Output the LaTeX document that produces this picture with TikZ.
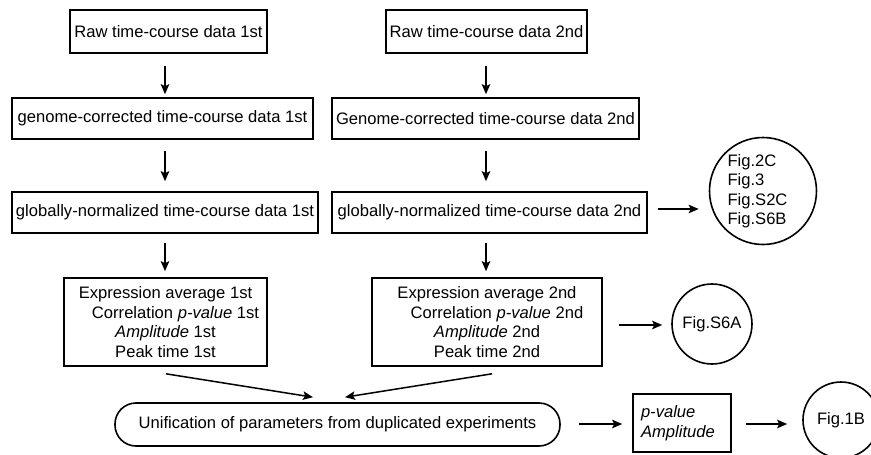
\documentclass[tikz,border=0pt]{standalone}
\usepackage{fontspec}
\setmainfont{Liberation Sans}
\usetikzlibrary{arrows.meta,calc}

\tikzset{
  x=1pt, y=-1pt,
  every node/.style={font=\fontsize{16.6}{19.5}\selectfont, inner sep=0pt},
  box/.style={draw, line width=1.6pt, rectangle},
  bubble/.style={draw, line width=1.6pt, circle},
  arr/.style={line width=1.5pt, -{Stealth[length=10pt,width=8.5pt,inset=2pt]}},
}

\begin{document}
\begin{tikzpicture}
\useasboundingbox (0,0) rectangle (871,455);

% first replicate column
\node[box, minimum width=197, minimum height=43] (raw1) at (168.5,31.5) {Raw time-course data 1st};
\node[box, minimum width=301, minimum height=41] (gen1) at (162.5,118.5) {genome-corrected time-course data 1st};
\node[box, minimum width=306, minimum height=41] (glob1) at (165,212.5) {globally-normalized time-course data 1st};
\node[box, minimum width=203, minimum height=88, align=center] (expr1) at (165.5,322)
  {Expression average 1st\\\hspace*{20pt}Correlation \textit{p-value} 1st\\\textit{Amplitude} 1st\\Peak time 1st};

% second replicate column
\node[box, minimum width=201, minimum height=43] (raw2) at (486.5,31.5) {Raw time-course data 2nd};
\node[box, minimum width=307, minimum height=41] (gen2) at (485.5,118.5) {Genome-corrected time-course data 2nd};
\node[box, minimum width=315, minimum height=41] (glob2) at (489.5,212.5) {globally-normalized time-course data 2nd};
\node[box, minimum width=230, minimum height=88, align=center] (expr2) at (487,322)
  {Expression average 2nd\\\hspace*{20pt}Correlation \textit{p-value} 2nd\\\textit{Amplitude} 2nd\\Peak time 2nd};

% merged parameters
\node[draw, line width=1.6pt, rounded corners=21pt, minimum width=445, minimum height=43] (unif) at (337.5,424.5)
  {Unification of parameters from duplicated experiments};
\node[box, text width=82pt, inner xsep=8pt, minimum height=58, align=left] (pv) at (682,423)
  {\textit{p-value}\\\textit{Amplitude}};

% figure references
\node[bubble, minimum size=107] (figA) at (763,191) {};
\node[align=left] (figAtxt) at ([xshift=-5.5]figA.center) {Fig.2C\\Fig.3\\Fig.S2C\\Fig.S6B};
\node[bubble, minimum size=80] (figB) at (712,324) {Fig.S6A};
\node[bubble, minimum size=76] (figC) at (841,420) {Fig.1B};

% column guides for the vertical arrows
\coordinate (colA) at (165,0);
\coordinate (colB) at (486,0);

\draw[arr, shorten <=12pt, shorten >=3pt] (raw1.south -| colA) -- (gen1.north -| colA);
\draw[arr, shorten <=11pt, shorten >=10pt] (gen1.south -| colA) -- (glob1.north -| colA);
\draw[arr, shorten <=9pt, shorten >=6pt] (glob1.south -| colA) -- (expr1.north -| colA);

\draw[arr, shorten <=12pt, shorten >=3pt] (raw2.south -| colB) -- (gen2.north -| colB);
\draw[arr, shorten <=11pt, shorten >=10pt] (gen2.south -| colB) -- (glob2.north -| colB);
\draw[arr, shorten <=9pt, shorten >=6pt] (glob2.south -| colB) -- (expr2.north -| colB);

% converging arrows into the merge step
\coordinate (uL) at ($(unif.north)+(-24.5,-5)$);
\coordinate (uR) at ($(unif.north)+(7.5,-5)$);
\draw[arr] ($(expr1.south)+(0.5,7)$) -- (uL);
\draw[arr] ($(expr2.south)+(5,7)$) -- (uR);

% side arrows to figure references
\draw[arr, shorten <=10pt, shorten >=10pt] ([yshift=3.5]glob2.east) -- ([yshift=3.5]glob2.east -| figA.west);
\draw[arr, shorten <=16pt, shorten >=9pt] ([yshift=-3]expr2.east) -- ([yshift=-3]expr2.east -| figB.west);
\draw[arr, shorten <=18pt, shorten >=10pt] ([yshift=0.5]unif.east) -- ([yshift=0.5]unif.east -| pv.west);
\draw[arr, shorten <=14pt, shorten >=15pt] ([yshift=-1]pv.east) -- ([yshift=-1]pv.east -| figC.west);
\end{tikzpicture}
\end{document}
